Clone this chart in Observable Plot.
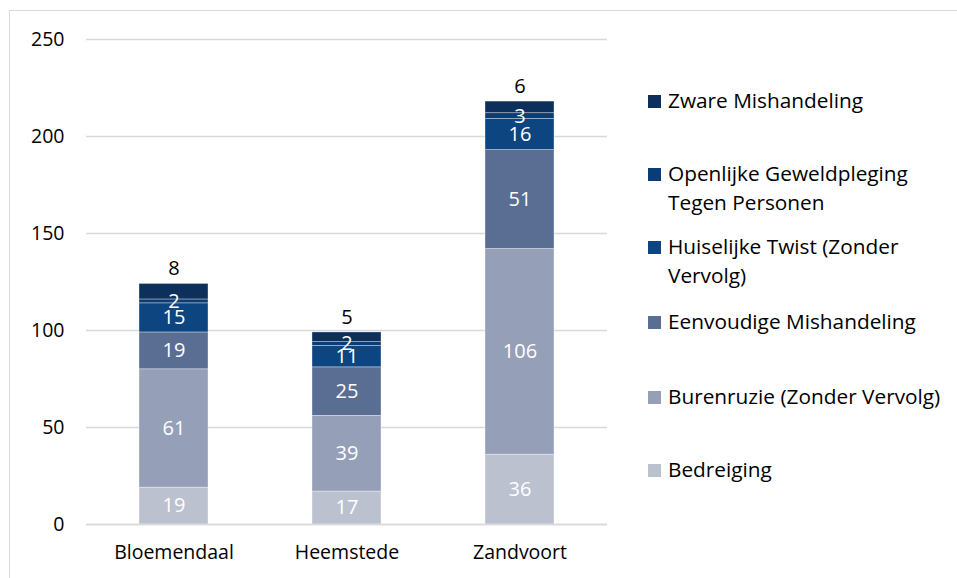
<!DOCTYPE html>
<html>
<head>
<meta charset="utf-8">
<script src="https://cdn.jsdelivr.net/npm/d3@7"></script>
<script src="https://cdn.jsdelivr.net/npm/@observablehq/plot@0.6"></script>
<style>
  html, body { margin: 0; padding: 0; background: #fff; }
  #wrap { position: relative; width: 957px; height: 578px; font-family: "Open Sans", sans-serif; overflow: hidden; }
  #frame { position: absolute; left: 9px; top: 10px; width: 960px; height: 580px; border-left: 1px solid #d9d9d9; border-top: 1px solid #d9d9d9; box-sizing: border-box; }
  #chart { position: absolute; left: 0; top: 0; }
  #legend { position: absolute; left: 648px; top: 0; }
  .item { position: absolute; left: 0; width: 305px; display: flex; align-items: flex-start; font-size: 20.8px; line-height: 29px; color: #000; white-space: nowrap; }
  .sw { width: 13px; height: 13px; margin-top: 9px; margin-right: 7px; flex: none; }
</style>
</head>
<body>
<div id="wrap">
  <div id="frame"></div>
  <div id="chart"></div>
  <div id="legend"></div>
</div>
<script>
const categories = ["Bloemendaal", "Heemstede", "Zandvoort"];
const series = [
  "Bedreiging",
  "Burenruzie (Zonder Vervolg)",
  "Eenvoudige Mishandeling",
  "Huiselijke Twist (Zonder Vervolg)",
  "Openlijke Geweldpleging Tegen Personen",
  "Zware Mishandeling"
];
const bedreiging = [19, 17, 36];
const burenruzie = [61, 39, 106];
const eenvoudige = [19, 25, 51];
const huiselijke = [15, 11, 16];
const openlijke = [2, 2, 3];
const zware = [8, 5, 6];
const colors = ["#bcc1d0", "#959fb8", "#5a6d93", "#0c4580", "#0b3c72", "#0d2f5c"];
const legendLines = [
  ["Zware Mishandeling"],
  ["Openlijke Geweldpleging", "Tegen Personen"],
  ["Huiselijke Twist (Zonder", "Vervolg)"],
  ["Eenvoudige Mishandeling"],
  ["Burenruzie (Zonder Vervolg)"],
  ["Bedreiging"]
];
const legendTops = [86, 159, 232, 307, 382, 455];
const yTicks = [0, 50, 100, 150, 200, 250];

const valueArrays = [bedreiging, burenruzie, eenvoudige, huiselijke, openlijke, zware];
const data = [];
series.forEach((s, si) => categories.forEach((c, ci) => data.push({cat: c, series: s, order: si, value: valueArrays[si][ci]})));
const inner = data.filter(d => d.order < series.length - 1);
const totals = categories.map((c, ci) => ({cat: c, total: d3.sum(valueArrays, a => a[ci]), value: zware[ci]}));

const chart = Plot.plot({
  width: 957,
  height: 578,
  marginLeft: 86,
  marginRight: 350,
  marginTop: 39,
  marginBottom: 54,
  style: {fontFamily: "Open Sans, sans-serif", fontSize: "19.5px", background: "transparent"},
  x: {domain: categories, paddingInner: 0.6, paddingOuter: 0.3, label: null, tickSize: 0, tickPadding: 21},
  y: {domain: [0, 250], ticks: yTicks, label: null, tickSize: 0, tickPadding: 22},
  color: {domain: series, range: colors},
  marks: [
    Plot.gridY(yTicks, {stroke: "#d9d9d9", strokeOpacity: 1, strokeWidth: 1.5}),
    Plot.barY(data, Plot.stackY({x: "cat", y: "value", fill: "series", order: series, stroke: "#fff", strokeOpacity: 0.5, strokeWidth: 0.7})),
    Plot.text(inner, Plot.stackY({x: "cat", y: "value", z: "series", order: series, text: d => String(d.value), fill: "#fff", fontSize: 20})),
    Plot.text(totals, {x: "cat", y: "total", text: d => String(d.value), fill: "#000", fontSize: 20, dy: -15}),
    Plot.ruleY([0], {stroke: "#d9d9d9", strokeWidth: 1.5})
  ]
});
chart.querySelectorAll("g[aria-label='x-axis tick label'] text, g[aria-label='y-axis tick label'] text").forEach(t => t.setAttribute("fill", "#000"));
document.getElementById("chart").appendChild(chart);

const legend = document.getElementById("legend");
legendLines.forEach((lines, i) => {
  const item = document.createElement("div");
  item.className = "item";
  item.style.top = legendTops[i] + "px";
  const sw = document.createElement("div");
  sw.className = "sw";
  sw.style.background = colors[series.length - 1 - i];
  const txt = document.createElement("div");
  txt.innerHTML = lines.join("<br>");
  item.appendChild(sw);
  item.appendChild(txt);
  legend.appendChild(item);
});
</script>
</body>
</html>
